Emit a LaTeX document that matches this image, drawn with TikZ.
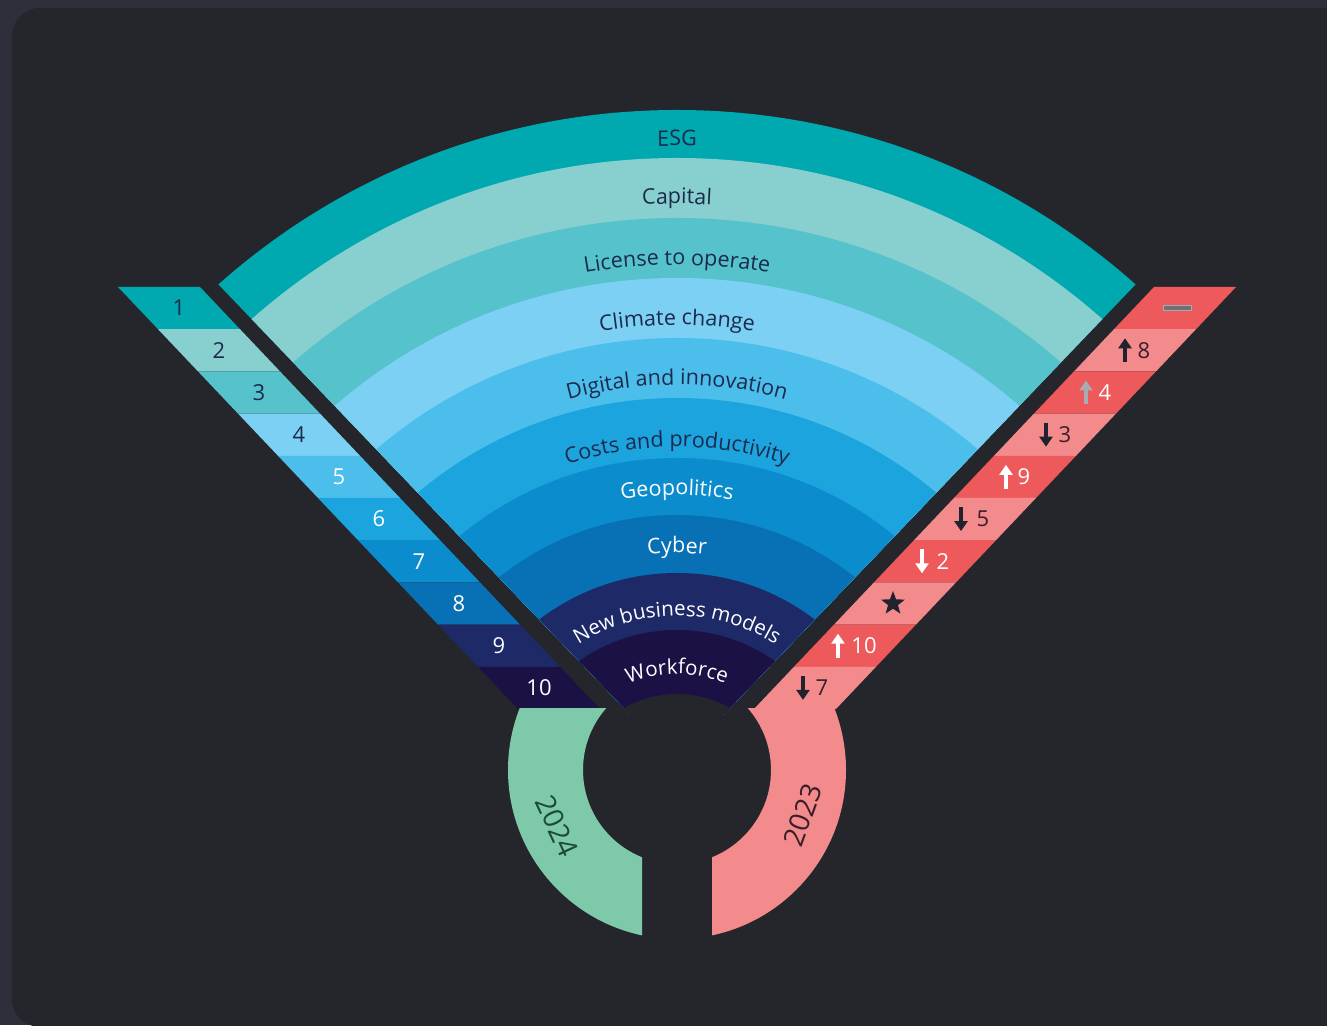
\documentclass[tikz,border=0pt]{standalone}
\usepackage{fontspec}
\setmainfont{Open Sans}
\usetikzlibrary{decorations.text,arrows.meta,shapes.geometric}

\definecolor{outerbg}{HTML}{2F2F3B}
\definecolor{cardbg}{HTML}{25262B}
\definecolor{cESG}{HTML}{00A8B0}
\definecolor{cCapital}{HTML}{88CFCF}
\definecolor{cLicense}{HTML}{55C2CC}
\definecolor{cClimate}{HTML}{7BD0F3}
\definecolor{cDigital}{HTML}{4CBEEB}
\definecolor{cCosts}{HTML}{1CA4DE}
\definecolor{cGeo}{HTML}{0B8CCD}
\definecolor{cCyber}{HTML}{0870B4}
\definecolor{cNewBiz}{HTML}{1E2968}
\definecolor{cWork}{HTML}{1B1145}
\definecolor{txtdark}{HTML}{1B2A4C}
\definecolor{cRed}{HTML}{EE5A5B}
\definecolor{cPink}{HTML}{F38B8C}
\definecolor{cMint}{HTML}{7DC9A9}
\definecolor{txtred}{HTML}{3A1E2A}
\definecolor{txtgreen}{HTML}{1A4A38}
\definecolor{arrowgray}{HTML}{A7ACB1}
\definecolor{dashgray}{HTML}{6E7077}
\definecolor{markdark}{HTML}{22222E}

\newcommand\fanfont{\fontsize{21.5}{25}\selectfont}
\newcommand\innerfont{\fontsize{20.5}{24}\selectfont}
\newcommand\numfont{\fontsize{22}{26}\selectfont}
\newcommand\yearfont{\fontsize{28}{32}\selectfont}

\begin{document}
\begin{tikzpicture}[x=1pt,y=1pt,
    fanlabel/.style 2 args={decorate,decoration={text along path,text align=center,text color=#1,text={|\fanfont|#2}}},
    innerlabel/.style={decorate,decoration={text along path,text align=center,text color=white,text={|\innerfont|#1}}},
    rownum/.style={font=\numfont,inner sep=0pt},
    trendarrow/.style={line width=4pt,-{Triangle[width=13pt,length=10pt]},#1},
    yearlabel/.style={font=\yearfont,inner sep=0pt}]
  \useasboundingbox (0,0) rectangle (1327,1025);
  \fill[outerbg] (0,0) rectangle (1327,1025);
  \fill[cardbg,rounded corners=28pt] (12,-2) rectangle (1360,1017);

  \coordinate (C) at (677,225);
  \coordinate (H) at (677,255);

  % fan of topics
  \begin{scope}
    \clip (630.7,310) -- (-107.6,1081) -- (1461.6,1081) -- (723.3,310) -- cycle;
    \fill[cESG] (C) circle (690);
    \fill[cCapital] (C) circle (642);
    \fill[cLicense] (C) circle (582);
    \fill[cClimate] (C) circle (522);
    \fill[cDigital] (C) circle (462);
    \fill[cCosts] (C) circle (402);
    \fill[cGeo] (C) circle (342);
    \fill[cCyber] (C) circle (285);
    \fill[cNewBiz] (C) circle (227);
    \fill[cWork] (C) circle (170);
    \fill[cardbg] (C) circle (106);
  \end{scope}

  \path[fanlabel={txtdark}{ESG}] ([shift={(150:654)}]C) arc[start angle=150,end angle=30,radius=654];
  \path[fanlabel={txtdark}{Capital}] ([shift={(150:596)}]C) arc[start angle=150,end angle=30,radius=596];
  \path[fanlabel={txtdark}{License to operate}] ([shift={(150:535)}]C) arc[start angle=150,end angle=30,radius=535];
  \path[fanlabel={txtdark}{Climate change}] ([shift={(150:475)}]C) arc[start angle=150,end angle=30,radius=475];
  \path[fanlabel={txtdark}{Digital and innovation}] ([shift={(150:415)}]C) arc[start angle=150,end angle=30,radius=415];
  \path[fanlabel={txtdark}{Costs and productivity}] ([shift={(150:353)}]C) arc[start angle=150,end angle=30,radius=353];
  \path[fanlabel={white}{Geopolitics}] ([shift={(150:305)}]C) arc[start angle=150,end angle=30,radius=305];
  \path[fanlabel={white}{Cyber}] ([shift={(150:247)}]C) arc[start angle=150,end angle=30,radius=247];
  \path[innerlabel={New business models}] ([shift={(150:184)}]C) arc[start angle=150,end angle=30,radius=184];
  \path[innerlabel={Workforce}] ([shift={(150:126)}]C) arc[start angle=150,end angle=30,radius=126];

  % 2024 ranking strip
  \foreach \i/\col/\tc in {1/cESG/txtdark,2/cCapital/txtdark,3/cLicense/txtdark,4/cClimate/txtdark,
      5/cDigital/white,6/cCosts/white,7/cGeo/white,8/cCyber/white,9/cNewBiz/white,10/cWork/white}{
    \pgfmathsetmacro\yt{738-(\i-1)*42.2}
    \pgfmathsetmacro\yb{\yt-42.2}
    \pgfmathsetmacro\xt{118+(738-\yt)*0.9479}
    \pgfmathsetmacro\xb{\xt+42.2*0.9479}
    \fill[\col] (\xt,\yt) -- (\xt+82,\yt) -- (\xb+82,\yb) -- (\xb,\yb) -- cycle;
    \node[rownum,text=\tc] (l\i) at ({(\xt+\xb)/2+41},{\yt-21.1}) {\i};
  }

  % 2023 ranking strip
  \foreach \i/\col in {1/cRed,2/cPink,3/cRed,4/cPink,5/cRed,6/cPink,7/cRed,8/cPink,9/cRed,10/cPink}{
    \pgfmathsetmacro\yt{738-(\i-1)*42.2}
    \pgfmathsetmacro\yb{\yt-42.2}
    \pgfmathsetmacro\xt{118+(738-\yt)*0.9479}
    \pgfmathsetmacro\xb{\xt+42.2*0.9479}
    \fill[\col] (1354-\xt,\yt) -- (1354-\xt-82,\yt) -- (1354-\xb-82,\yb) -- (1354-\xb,\yb) -- cycle;
    \coordinate (r\i) at ({1354-(\xt+\xb)/2-41},{\yt-21.1});
  }

  \node[fill=dashgray,draw=arrowgray,line width=0.8pt,minimum width=28pt,minimum height=5pt,inner sep=0pt] (dash) at ([xshift=2]r1) {};
  \draw[trendarrow=markdark] ([xshift=-10,yshift=-12]r2) -- ([xshift=-10,yshift=12]r2);
  \node[rownum,text=txtred] (n2) at ([xshift=9]r2) {8};
  \draw[trendarrow=arrowgray] ([xshift=-9,yshift=-12]r3) -- ([xshift=-9,yshift=12]r3);
  \node[rownum,text=white] (n3) at ([xshift=10]r3) {4};
  \draw[trendarrow=markdark] ([xshift=-9,yshift=12]r4) -- ([xshift=-9,yshift=-12]r4);
  \node[rownum,text=txtred] (n4) at ([xshift=10]r4) {3};
  \draw[trendarrow=white] ([xshift=-9,yshift=-12]r5) -- ([xshift=-9,yshift=12]r5);
  \node[rownum,text=white] (n5) at ([xshift=9]r5) {9};
  \draw[trendarrow=markdark] ([xshift=-14,yshift=12]r6) -- ([xshift=-14,yshift=-12]r6);
  \node[rownum,text=txtred] (n6) at ([xshift=8]r6) {5};
  \draw[trendarrow=white] ([xshift=-13,yshift=12]r7) -- ([xshift=-13,yshift=-12]r7);
  \node[rownum,text=white] (n7) at ([xshift=8]r7) {2};
  \node[star,star points=5,star point ratio=2.4,fill=markdark,minimum size=25pt,inner sep=0pt] (star) at ([xshift=-2]r8) {};
  \draw[trendarrow=white] ([xshift=-17,yshift=-12]r9) -- ([xshift=-17,yshift=12]r9);
  \node[rownum,text=white] (n9) at ([xshift=9]r9) {10};
  \draw[trendarrow=markdark] ([xshift=-12,yshift=12]r10) -- ([xshift=-12,yshift=-12]r10);
  \node[rownum,text=txtred] (n10) at ([xshift=7]r10) {7};

  % year arcs
  \begin{scope}
    \clip (0,0) rectangle (642,316);
    \fill[cMint,even odd rule] (H) circle (169) (H) circle (94);
  \end{scope}
  \begin{scope}
    \clip (712,0) rectangle (1327,316);
    \fill[cPink,even odd rule] (H) circle (169) (H) circle (94);
  \end{scope}
  \node[yearlabel,text=txtgreen,rotate=-65] (y2024) at (557,199) {2024};
  \node[yearlabel,text=txtred,rotate=70] (y2023) at (803,210) {2023};
\end{tikzpicture}
\end{document}
